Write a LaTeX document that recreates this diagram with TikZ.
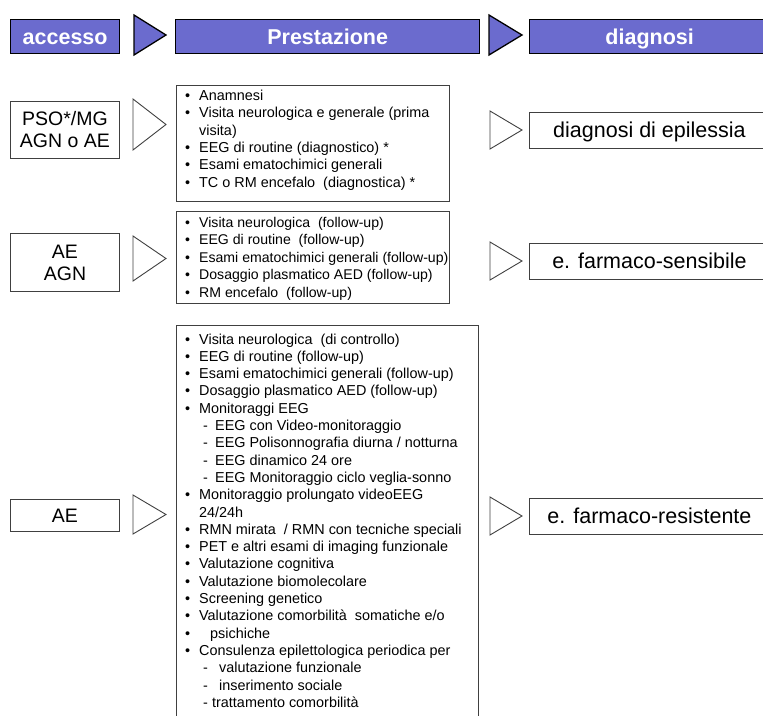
\documentclass[tikz,border=0pt]{standalone}
\usepackage{fontspec}
\setmainfont{Liberation Sans}

\definecolor{hdrblue}{RGB}{107,107,206}
\definecolor{boxgray}{RGB}{64,64,64}

% list markers
\newcommand\bu{\makebox[14pt][l]{\textbullet}}
\newcommand\cont{\hspace{14pt}}
\newcommand\dsh[1][12]{\hspace{18pt}\makebox[#1pt][l]{-}}

\tikzset{
  hdr/.style={draw=black, line width=1.3pt, fill=hdrblue, text=white,
    font=\fontsize{21.5}{24}\selectfont\bfseries, inner sep=0pt, anchor=north west,
    text height=16pt, text depth=1pt},
  hdrtri/.style={draw=black, line width=1.3pt, fill=hdrblue, line join=miter},
  box/.style={draw=boxgray, line width=0.9pt, fill=white, inner sep=0pt,
    anchor=north west, align=center},
  tri/.style={draw=boxgray, line width=0.9pt, fill=white, line join=miter},
  src/.style={box, font=\fontsize{19.5}{22}\selectfont},
  res/.style={box, font=\fontsize{21.5}{24}\selectfont, text height=16pt, text depth=1pt},
  item/.style={anchor=base west, inner sep=0pt, font=\fontsize{14.4}{17}\selectfont},
  itemb/.style={item, font=\fontsize{14.1}{17}\selectfont},
}

\begin{document}
\begin{tikzpicture}[x=1pt, y=-1pt]
\useasboundingbox (0,0) rectangle (763,715);

% header row
\node[hdr, minimum width=109, minimum height=34] (acc) at (10,19) {accesso};
\draw[hdrtri] (134,15) -- (166,35) -- (134,55) -- cycle;
\node[hdr, minimum width=304, minimum height=34] (pre) at (175,19) {Prestazione};
\draw[hdrtri] (489,15) -- (522,35) -- (489,55) -- cycle;
\node[hdr, minimum width=240, minimum height=34] (dia) at (529,19) {diagnosi};

% first row: diagnosis
\node[src, minimum width=109, minimum height=57] (s1) at (10,101) {PSO*/MG\\AGN o AE};
\draw[tri] (133,99) -- (166,124.5) -- (133,150) -- cycle;
\node[box, minimum width=273, minimum height=116] (p1) at (176,85) {};
\foreach \t [count=\i] in {
  {\bu Anamnesi},
  {\bu Visita neurologica e generale (prima},
  {\cont visita)},
  {\bu EEG di routine (diagnostico) *},
  {\bu Esami ematochimici generali},
  {\bu TC o RM encefalo\ \ (diagnostica) *}}
  \node[item] (p1-\i) at (185, 100.5+17.3*\i-17.3) {\t};
\draw[tri] (490,111) -- (522,130) -- (490,149) -- cycle;
\node[res, minimum width=240, minimum height=36] (r1) at (529,112) {diagnosi di epilessia};

% second row: follow-up
\node[src, minimum width=109, minimum height=58] (s2) at (10,233) {AE\\AGN};
\draw[tri] (133,236) -- (166,258.5) -- (133,281) -- cycle;
\node[box, minimum width=273, minimum height=92] (p2) at (176,211) {};
\foreach \t [count=\i] in {
  {\bu Visita neurologica\ \ (follow-up)},
  {\bu EEG di routine\ \ (follow-up)},
  {\bu Esami ematochimici generali (follow-up)},
  {\bu Dosaggio plasmatico AED (follow-up)},
  {\bu RM encefalo\ \ (follow-up)}}
  \node[itemb] (p2-\i) at (185, 227+17.5*\i-17.5) {\t};
\draw[tri] (490,242) -- (522,261) -- (490,280) -- cycle;
\node[res, minimum width=240, minimum height=36] (r2) at (529,243) {e. farmaco-sensibile};

% third row: drug resistance
\node[src, minimum width=109, minimum height=32] (s3) at (10,499) {AE};
\draw[tri] (133,495) -- (166,514.5) -- (133,534) -- cycle;
\node[box, minimum width=302, minimum height=400] (p3) at (176,325) {};
\foreach \t [count=\i] in {
  {\bu Visita neurologica\ \ (di controllo)},
  {\bu EEG di routine (follow-up)},
  {\bu Esami ematochimici generali (follow-up)},
  {\bu Dosaggio plasmatico AED (follow-up)},
  {\bu Monitoraggi EEG},
  {\dsh EEG con Video-monitoraggio},
  {\dsh EEG Polisonnografia diurna / notturna},
  {\dsh EEG dinamico 24 ore},
  {\dsh EEG Monitoraggio ciclo veglia-sonno},
  {\bu Monitoraggio prolungato videoEEG},
  {\cont 24/24h},
  {\bu RMN mirata\ \ / RMN con tecniche speciali},
  {\bu PET e altri esami di imaging funzionale},
  {\bu Valutazione cognitiva},
  {\bu Valutazione biomolecolare},
  {\bu Screening genetico},
  {\bu Valutazione comorbilità\ \ somatiche e/o},
  {\bu\hspace{11pt}psichiche},
  {\bu Consulenza epilettologica periodica per},
  {\dsh[16]valutazione funzionale},
  {\dsh[16]inserimento sociale},
  {\dsh[9]trattamento comorbilità}}
  \node[item] (p3-\i) at (185, 344+17.3*\i-17.3) {\t};
\draw[tri] (490,497) -- (522,516) -- (490,535) -- cycle;
\node[res, minimum width=240, minimum height=36] (r3) at (529,498) {e. farmaco-resistente};
\end{tikzpicture}
\end{document}
